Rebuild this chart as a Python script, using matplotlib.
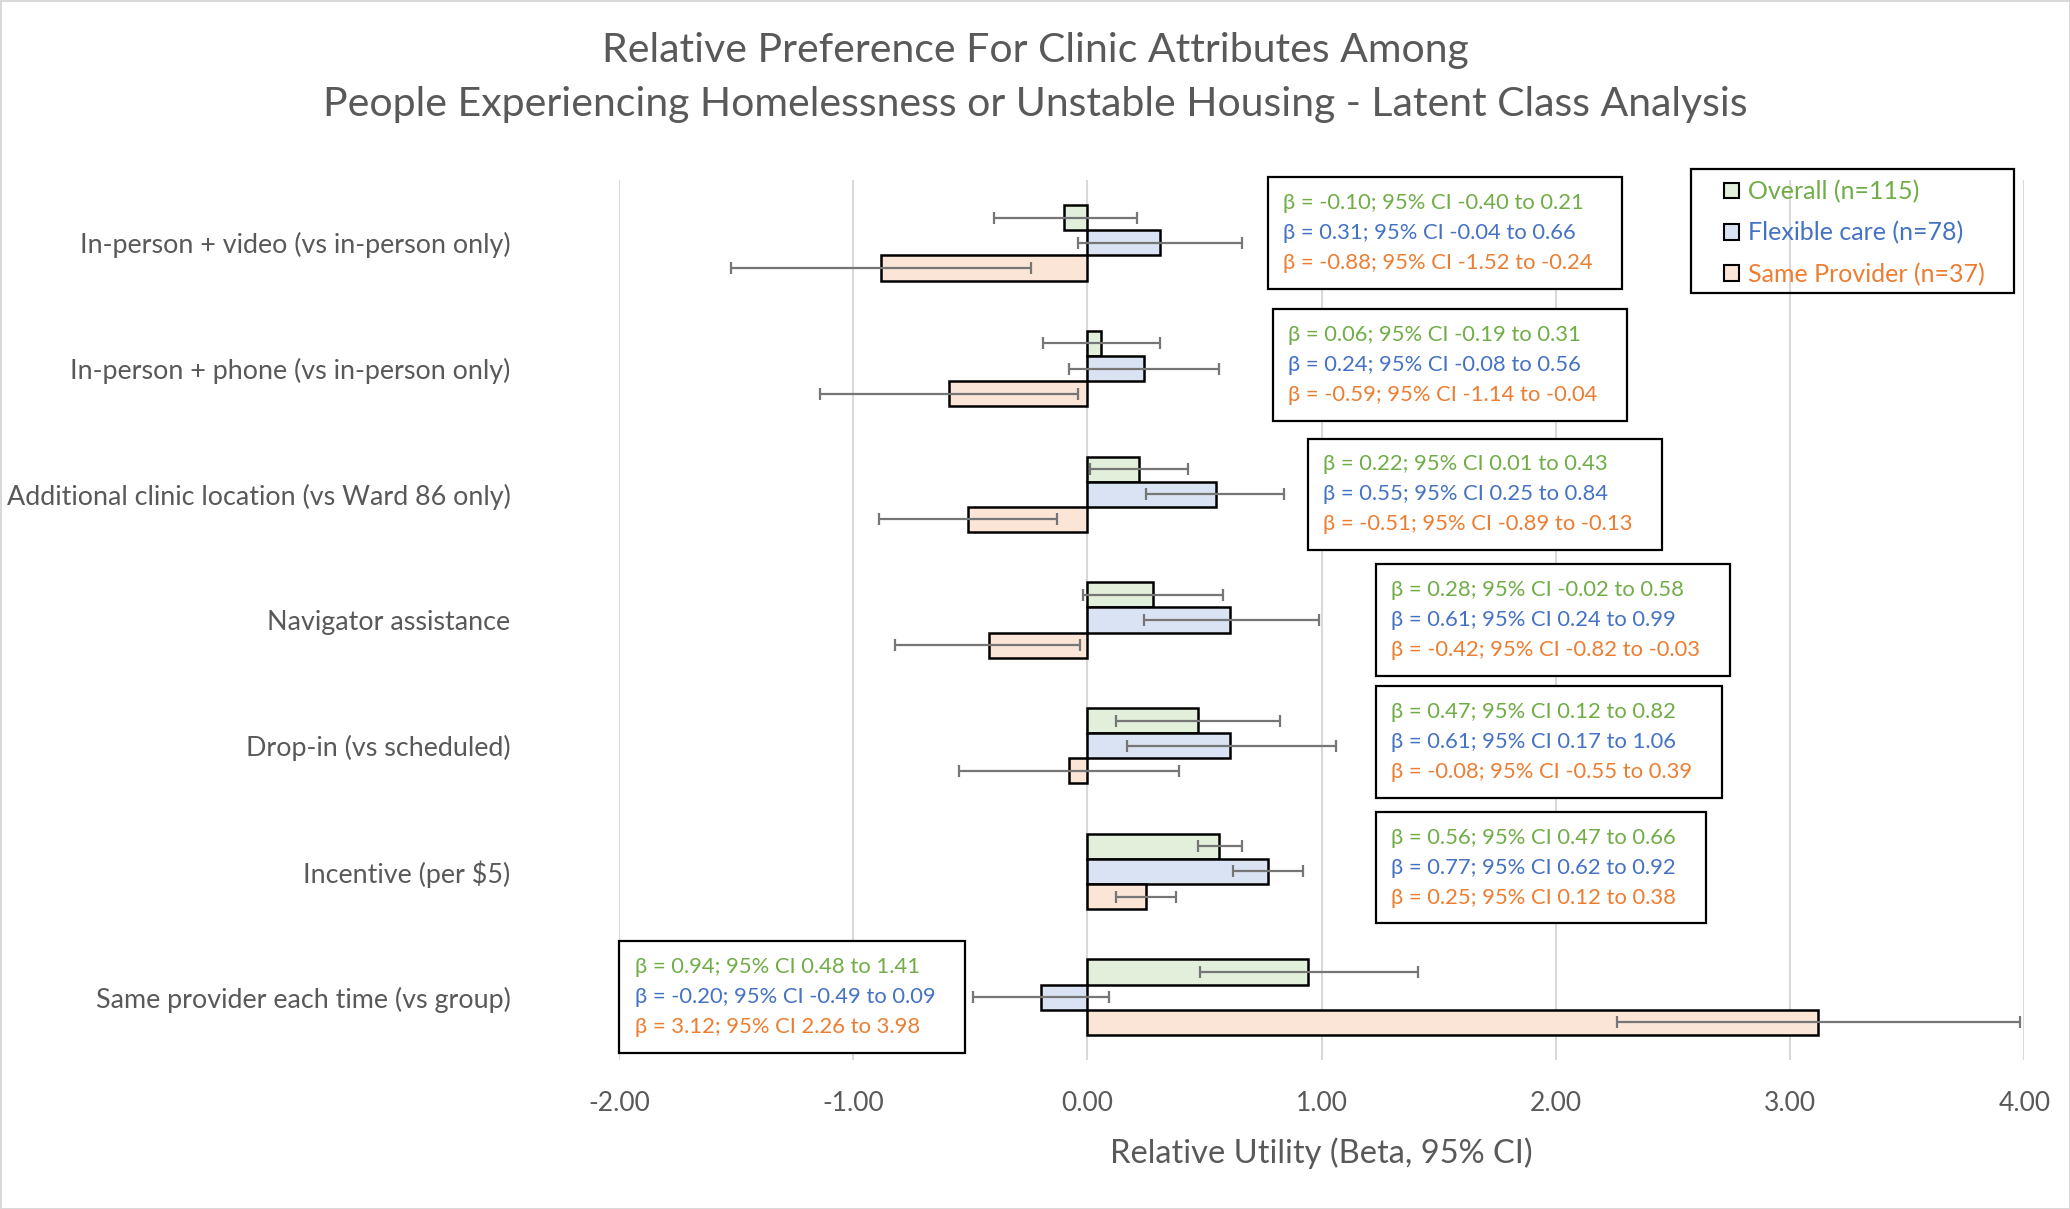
import matplotlib.pyplot as plt
import numpy as np
from matplotlib.patches import Patch, Rectangle
from matplotlib.offsetbox import TextArea, VPacker, HPacker, DrawingArea, AnnotationBbox

plt.rcParams['font.family'] = ['Lato', 'DejaVu Sans']

# attributes, top to bottom
attributes = [
    "In-person + video (vs in-person only)",
    "In-person + phone (vs in-person only)",
    "Additional clinic location (vs Ward 86 only)",
    "Navigator assistance",
    "Drop-in (vs scheduled)",
    "Incentive (per $5)",
    "Same provider each time (vs group)",
]

group_names = ["Overall (n=115)", "Flexible care (n=78)", "Same Provider (n=37)"]

overall_beta = [-0.10, 0.06, 0.22, 0.28, 0.47, 0.56, 0.94]
overall_lo = [-0.40, -0.19, 0.01, -0.02, 0.12, 0.47, 0.48]
overall_hi = [0.21, 0.31, 0.43, 0.58, 0.82, 0.66, 1.41]

flexible_beta = [0.31, 0.24, 0.55, 0.61, 0.61, 0.77, -0.20]
flexible_lo = [-0.04, -0.08, 0.25, 0.24, 0.17, 0.62, -0.49]
flexible_hi = [0.66, 0.56, 0.84, 0.99, 1.06, 0.92, 0.09]

same_beta = [-0.88, -0.59, -0.51, -0.42, -0.08, 0.25, 3.12]
same_lo = [-1.52, -1.14, -0.89, -0.82, -0.55, 0.12, 2.26]
same_hi = [-0.24, -0.04, -0.13, -0.03, 0.39, 0.38, 3.98]

x_ticks = [-2.0, -1.0, 0.0, 1.0, 2.0, 3.0, 4.0]

# styling
fills = ['#E2EFDA', '#DAE3F3', '#FBE5D6']
text_cols = ['#70AD47', '#4472C4', '#ED7D31']
grey = '#595959'

# where the beta boxes sit (left edge in data x, vertical offset from category)
box_x = [0.77, 0.79, 0.94, 1.23, 1.23, 1.23, -2.0]
box_dy = [-0.08, -0.03, 0.0, 0.0, -0.03, -0.03, 0.0]
box_fs = 15.8
box_pad = 0.71  # in fontsize units

fig = plt.figure(figsize=(20.7, 12.09), dpi=100)
fig.patch.set_edgecolor('#D9D9D9')
fig.patch.set_linewidth(2)
ax = fig.add_axes([0.299, 0.1232, 0.679, 0.7279])

y = np.arange(len(attributes))
h = 0.2
series = [
    (overall_beta, overall_lo, overall_hi),
    (flexible_beta, flexible_lo, flexible_hi),
    (same_beta, same_lo, same_hi),
]
for i, (b, lo, hi) in enumerate(series):
    b = np.array(b)
    pos = y + (i - 1) * h
    ax.barh(pos, b, height=h, color=fills[i], edgecolor='black', linewidth=1.8, zorder=2)
    err = [b - np.array(lo), np.array(hi) - b]
    ax.errorbar(b, pos, xerr=err, fmt='none', ecolor='#767676', elinewidth=1.6,
                capsize=4.5, capthick=1.6, zorder=3)

ax.set_xlim(-2, 4)
ax.set_ylim(len(attributes) - 0.5, -0.5)
ax.set_xticks(x_ticks)
ax.set_xticklabels([f"{t:.2f}" for t in x_ticks])
ax.set_yticks(y)
ax.set_yticklabels(attributes)
ax.tick_params(axis='y', length=0, pad=78, labelsize=19.4, labelcolor=grey)
ax.tick_params(axis='x', length=0, pad=22, labelsize=19, labelcolor=grey)
for s in ax.spines.values():
    s.set_visible(False)
ax.grid(axis='x', color='#D9D9D9', linewidth=1.5, zorder=0)
ax.set_axisbelow(True)
ax.set_xlabel("Relative Utility (Beta, 95% CI)", fontsize=23.5, color=grey, labelpad=16)

# beta / CI boxes
for k in range(len(attributes)):
    lines = []
    for i, (b, lo, hi) in enumerate(series):
        txt = f"β = {b[k]:.2f}; 95% CI {lo[k]:.2f} to {hi[k]:.2f}"
        lines.append(TextArea(txt, textprops=dict(color=text_cols[i], fontsize=box_fs)))
    pack = VPacker(children=lines, align='left', pad=0, sep=7.3)
    content = HPacker(children=[pack, DrawingArea(10, 1)], align='center', pad=0, sep=0)
    ab = AnnotationBbox(content, (box_x[k], y[k] + box_dy[k]), xycoords='data',
                        xybox=(box_pad * box_fs, 0), boxcoords='offset points',
                        box_alignment=(0, 0.5), pad=box_pad, fontsize=box_fs,
                        bboxprops=dict(edgecolor='black', linewidth=1.6))
    ab.set_zorder(5)
    ax.add_artist(ab)

# legend, with its own frame drawn as a figure rectangle
handles = [Patch(facecolor=fills[i], edgecolor='black', linewidth=1.5) for i in range(3)]
fig.legend(handles, group_names, loc='upper left', bbox_to_anchor=(1724 / 2070, 1 - 180 / 1209),
           fontsize=18, labelcolor=text_cols, frameon=False,
           handlelength=0.6, handleheight=0.6, handletextpad=0.35,
           labelspacing=0.72, borderpad=0, borderaxespad=0)
fig.patches.append(Rectangle((1691 / 2070, 1 - 293 / 1209), 323 / 2070, 124 / 1209,
                             transform=fig.transFigure, facecolor='none',
                             edgecolor='black', linewidth=1.6))

fig.text(0.5, 0.936, "Relative Preference For Clinic Attributes Among\n"
         "People Experiencing Homelessness or Unstable Housing - Latent Class Analysis",
         ha='center', va='center', fontsize=29.5, color=grey, linespacing=1.55)

plt.savefig("out.png", dpi=100)
